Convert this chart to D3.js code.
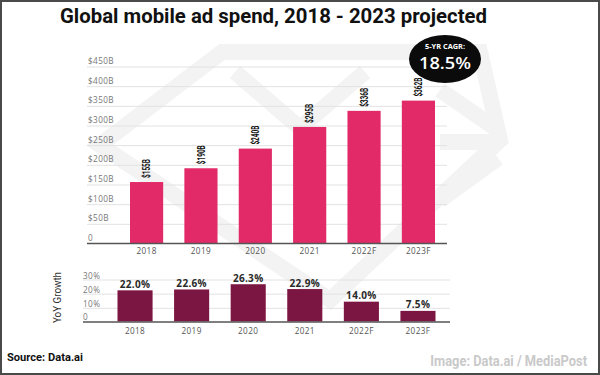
<!DOCTYPE html>
<html><head><meta charset="utf-8">
<script src="https://cdn.jsdelivr.net/npm/d3@7"></script>
<style>html,body{margin:0;padding:0;background:#fff;}svg{display:block;}</style>
</head><body>
<svg id="c" width="600" height="375"></svg>
<script>
const categories = ["2018","2019","2020","2021","2022F","2023F"];
const spendValues = [155,190,240,295,336,362];
const spendLabels = ["$155B","$190B","$240B","$295B","$336B","$362B"];
const spendTicks = [0,50,100,150,200,250,300,350,400,450];
const spendTickLabels = ["0","$50B","$100B","$150B","$200B","$250B","$300B","$350B","$400B","$450B"];
const growthValues = [22.0,22.6,26.3,22.9,14.0,7.5];
const growthTicks = [0,10,20,30];
const growthTickLabels = ["0","10%","20%","30%"];

const svg = d3.select("#c");
svg.append("rect").attr("width",600).attr("height",375).attr("fill","#fff");

// watermark
const wm = svg.append("g").attr("fill","none").attr("stroke","#f3f3f3").attr("stroke-width",16).attr("stroke-linejoin","miter");
wm.append("path").attr("d","M100,145 L222,52 L480,52 L500,140 L330,300 Z");
wm.append("path").attr("d","M235,72 L300,128 L365,72");
wm.append("path").attr("d","M440,90 L495,128 M440,142 L498,142 M498,158 L440,200");

// Title
svg.append("text").attr("x",60).attr("y",23).attr("textLength",427).attr("lengthAdjust","spacingAndGlyphs")
  .attr("font-family","Roboto, sans-serif").attr("font-weight",700).attr("font-size",20).attr("fill","#111")
  .text("Global mobile ad spend, 2018 - 2023 projected");

// Top chart
const x1 = d3.scaleBand().domain(categories).range([130,435]).paddingInner(0.39).paddingOuter(0);
const y1 = d3.scaleLinear().domain([0,450]).range([243,66]);
const g1 = svg.append("g");
g1.selectAll("line.grid").data(spendTicks.slice(1)).join("line")
  .attr("x1",87).attr("x2",447).attr("y1",d=>y1(d)+1).attr("y2",d=>y1(d)+1)
  .attr("stroke","#e2e2e2").attr("stroke-width",1);
g1.selectAll("text.tick").data(spendTicks).join("text")
  .attr("x",88).attr("y",d=>y1(d)-2).attr("font-family","'Open Sans', sans-serif").attr("font-size",8.2)
  .attr("letter-spacing",0.4).attr("fill","#777").text((d,i)=>spendTickLabels[i]);
g1.selectAll("rect").data(spendValues).join("rect")
  .attr("x",(d,i)=>x1(categories[i])).attr("width",x1.bandwidth())
  .attr("y",d=>y1(d)).attr("height",d=>y1(0)-y1(d)).attr("fill","#e22a68");
g1.append("line").attr("x1",87).attr("x2",447).attr("y1",243.5).attr("y2",243.5).attr("stroke","#555").attr("stroke-width",1.5);
g1.selectAll("text.val").data(spendValues).join("text")
  .attr("transform",(d,i)=>`translate(${x1(categories[i])+x1.bandwidth()/2},${y1(d)-4}) rotate(-90)`)
  .attr("dy","0.36em").attr("textLength",19).attr("lengthAdjust","spacingAndGlyphs")
  .attr("font-family","Roboto, sans-serif").attr("font-weight",700).attr("font-size",10).attr("fill","#111")
  .text((d,i)=>spendLabels[i]);
g1.selectAll("text.cat").data(categories).join("text")
  .attr("x",d=>x1(d)+x1.bandwidth()/2).attr("y",254).attr("text-anchor","middle")
  .attr("font-family","'Open Sans', sans-serif").attr("font-size",8.2).attr("letter-spacing",0.4).attr("fill","#555")
  .text(d=>d);

// CAGR badge
svg.append("ellipse").attr("cx",445).attr("cy",59).attr("rx",36).attr("ry",24).attr("fill","#0b0b0b");
svg.append("text").attr("x",445).attr("y",49).attr("text-anchor","middle").attr("textLength",40).attr("lengthAdjust","spacingAndGlyphs")
  .attr("font-family","'Open Sans', sans-serif").attr("font-weight",700).attr("font-size",6.5).attr("fill","#fff").text("5-YR CAGR:");
svg.append("text").attr("x",445).attr("y",69).attr("text-anchor","middle").attr("textLength",52).attr("lengthAdjust","spacingAndGlyphs")
  .attr("font-family","'Open Sans', sans-serif").attr("font-weight",600).attr("font-size",16).attr("fill","#fff").text("18.5%");

// Bottom chart
const x2 = d3.scaleBand().domain(categories).range([117.5,435.5]).paddingInner(0.38).paddingOuter(0);
const y2 = d3.scaleLinear().domain([0,30]).range([321.5,279]);
const g2 = svg.append("g");
g2.selectAll("line.grid").data(growthTicks.slice(1)).join("line")
  .attr("x1",83).attr("x2",450).attr("y1",d=>y2(d)+1).attr("y2",d=>y2(d)+1)
  .attr("stroke","#e2e2e2").attr("stroke-width",1);
g2.selectAll("text.tick").data(growthTicks).join("text")
  .attr("x",83).attr("y",d=>y2(d)-(d===0?2:0)).attr("font-family","'Open Sans', sans-serif").attr("font-size",8.2)
  .attr("letter-spacing",0.4).attr("fill","#777").text((d,i)=>growthTickLabels[i]);
g2.selectAll("rect").data(growthValues).join("rect")
  .attr("x",(d,i)=>x2(categories[i])).attr("width",x2.bandwidth())
  .attr("y",d=>y2(d)).attr("height",d=>y2(0)-y2(d)).attr("fill","#7b1541");
g2.append("line").attr("x1",83).attr("x2",450).attr("y1",322).attr("y2",322).attr("stroke","#555").attr("stroke-width",1.5);
g2.selectAll("text.val").data(growthValues).join("text")
  .attr("x",(d,i)=>x2(categories[i])+x2.bandwidth()/2).attr("y",d=>y2(d)-2.5).attr("text-anchor","middle")
  .attr("font-family","'Open Sans', sans-serif").attr("font-weight",700).attr("font-size",10).attr("letter-spacing",0.3).attr("fill","#2a2a2a")
  .text(d=>d.toFixed(1)+"%");
g2.selectAll("text.cat").data(categories).join("text")
  .attr("x",d=>x2(d)+x2.bandwidth()/2).attr("y",334).attr("text-anchor","middle")
  .attr("font-family","'Open Sans', sans-serif").attr("font-size",8.2).attr("letter-spacing",0.4).attr("fill","#555")
  .text(d=>d);
svg.append("text").attr("transform","translate(61,297.5) rotate(-90)").attr("text-anchor","middle")
  .attr("textLength",51).attr("lengthAdjust","spacingAndGlyphs")
  .attr("font-family","'Liberation Sans Narrow','Roboto',sans-serif").attr("font-size",10).attr("fill","#333").text("YoY Growth");

// footer
svg.append("text").attr("x",7).attr("y",361).attr("textLength",76).attr("lengthAdjust","spacingAndGlyphs")
  .attr("font-family","Roboto, sans-serif").attr("font-weight",700).attr("font-size",11.5).attr("fill","#111").text("Source: Data.ai");
svg.append("text").attr("transform","translate(587,366) scale(0.83,1)").attr("text-anchor","end")
  .attr("font-family","Roboto, sans-serif").attr("font-weight",700).attr("font-size",15.5).attr("fill","#c9c9c9").text("Image: Data.ai / MediaPost");

// border
svg.append("rect").attr("x",1).attr("y",1).attr("width",598).attr("height",373).attr("fill","none").attr("stroke","#4a4a4a").attr("stroke-width",2);
</script>
</body></html>
